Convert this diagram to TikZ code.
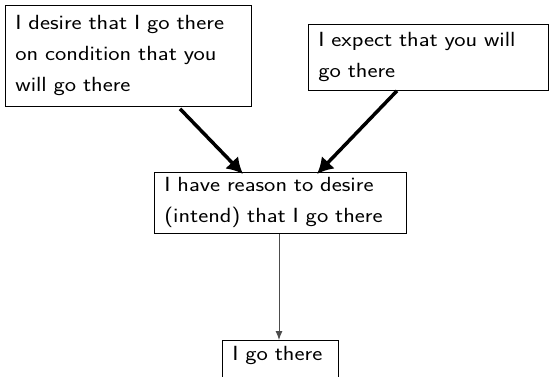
\documentclass[tikz,border=0pt]{standalone}
\usepackage{fontspec}
\newfontfamily\lmsans{Latin Modern Sans}[FakeStretch=1.17,WordSpace=1.15]
\usetikzlibrary{arrows.meta,calc}
\begin{document}
\begin{tikzpicture}[x=1pt,y=1pt,
  box/.style={draw,line width=0.8pt,anchor=north west,align=left,inner xsep=10pt,inner ysep=0pt,
    font=\lmsans\fontsize{20.5}{31}\selectfont},
  bigarrow/.style={line width=3.5pt,-{Latex[length=16pt,width=18pt]}},
  smallarrow/.style={line width=0.9pt,draw=black!70,-{Latex[length=9pt,width=7pt]}}]
\clip (0,0) rectangle (549,376);
\node[box,text width=226pt,minimum height=101pt] (b1) at (5,371) {I desire that I go there\\on condition that you\\will go there};
\node[box,text width=220pt,minimum height=66pt] (b2) at (308,352) {I expect that you will\\go there};
\node[box,text width=232pt,minimum height=61pt] (b3) at (154,204) {I have reason to desire\\(intend) that I go there};
\node[box,text width=96pt,minimum height=46pt,anchor=north west] (b4) at (222,36) {I go there\\[-10pt]\mbox{}};
\draw[bigarrow] ($(b1.south west)+(175,-2)$) -- ($(b3.north west)+(89,-2)$);
\draw[bigarrow] ($(b2.south west)+(89,0)$) -- ($(b3.north west)+(163,-2)$);
\draw[smallarrow] ($(b3.south west)+(125,0)$) -- ($(b4.north west)+(57,0)$);
\end{tikzpicture}
\end{document}
